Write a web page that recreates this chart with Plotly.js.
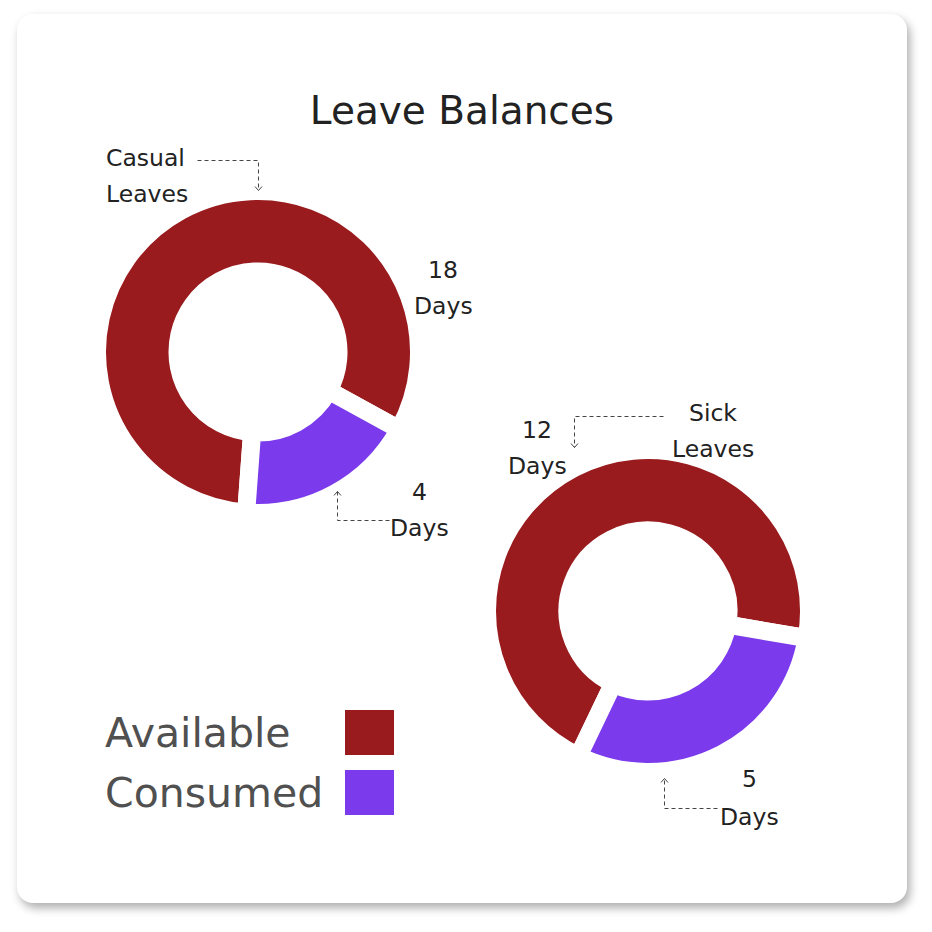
<!DOCTYPE html>
<html>
<head>
<meta charset="utf-8">
<script src="https://cdn.plot.ly/plotly-3.0.1.min.js"></script>
<style>
  html, body { margin:0; padding:0; background:#ffffff; }
  #wrap { position:relative; width:932px; height:932px; overflow:hidden; }
  #card { position:absolute; left:17px; top:14px; width:890px; height:889px;
          background:#ffffff; border-radius:16px;
          box-shadow: 3px 5px 10px rgba(0,0,0,0.32); }
  #chart { position:absolute; left:0; top:0; width:932px; height:932px; }
</style>
</head>
<body>
<div id="wrap">
  <div id="card"></div>
  <div id="chart"></div>
</div>
<script>
// ---- data ----
const chartTitle = 'Leave Balances';
const leaveTypes = ['Casual Leaves', 'Sick Leaves'];
const available = [18, 12];
const consumed = [4, 5];
const seriesNames = ['Available', 'Consumed'];
const unitLabel = 'Days';

// ---- styles ----
const seriesColors = ['#991b1e', '#7b3aeb'];
const FONT = '"DejaVu Sans", Inter, sans-serif';
const W = 932, H = 932;
const px = x => x / W;
const py = y => 1 - y / H;

// donut geometry (pixels): center, radius of domain
const donutCenters = [[258, 352], [648, 611]];
const R = 161;
const rotations = [184.2, 205.6];

const traces = leaveTypes.map((name, i) => {
  const [cx, cy] = donutCenters[i];
  return {
    type: 'pie',
    name: name,
    labels: seriesNames,
    values: [available[i], consumed[i]],
    marker: { colors: seriesColors, line: { color: '#ffffff', width: 18 } },
    hole: 0.5,
    sort: false,
    direction: 'clockwise',
    rotation: rotations[i],
    textinfo: 'none',
    hoverinfo: 'label+value',
    showlegend: false,
    domain: { x: [px(cx - R), px(cx + R)], y: [py(cy + R), py(cy - R)] }
  };
});

const labelFont = { family: FONT, size: 23.5, color: '#222222' };
function ann(text, x, y, xanchor, font) {
  return { text: text, x: px(x), y: py(y), xref: 'paper', yref: 'paper',
           xanchor: xanchor || 'center', yanchor: 'middle', showarrow: false,
           font: font || labelFont };
}

const annotations = [];
// leave type names
const nameWords0 = leaveTypes[0].split(' ');
annotations.push(ann(nameWords0[0], 104, 158, 'left'));
annotations.push(ann(nameWords0[1], 104, 194, 'left'));
const nameWords1 = leaveTypes[1].split(' ');
annotations.push(ann(nameWords1[0], 713, 413));
annotations.push(ann(nameWords1[1], 713, 449));
// values
annotations.push(ann(String(available[0]), 443, 270));
annotations.push(ann(unitLabel, 443, 306));
annotations.push(ann(String(consumed[0]), 419, 492));
annotations.push(ann(unitLabel, 419, 528));
annotations.push(ann(String(available[1]), 537, 430));
annotations.push(ann(unitLabel, 537, 466));
annotations.push(ann(String(consumed[1]), 749, 779));
annotations.push(ann(unitLabel, 749, 817));
// legend text
const legFont = { family: FONT, size: 41, color: '#505050' };
annotations.push(ann(seriesNames[0], 103, 733, 'left', legFont));
annotations.push(ann(seriesNames[1], 103, 793, 'left', legFont));

function pathStr(pts) {
  return pts.map((p, k) => (k ? 'L' : 'M') + px(p[0] + 0.5).toFixed(5) + ',' + py(p[1] + 0.5).toFixed(5)).join(' ');
}
const leaderLine = { color: '#444444', width: 1, dash: '4px,3px' };
const headLine = { color: '#444444', width: 1 };
const shapes = [];
function leader(pts, tip, dirDown) {
  shapes.push({ type: 'path', xref: 'paper', yref: 'paper', path: pathStr(pts), line: leaderLine });
  const [tx, ty] = tip;
  const d = dirDown ? -4 : 4;
  shapes.push({ type: 'path', xref: 'paper', yref: 'paper',
    path: pathStr([[tx - 3.5, ty + d], [tx, ty], [tx + 3.5, ty + d]]), line: headLine });
}
leader([[197, 160], [258, 160], [258, 190]], [258, 190], true);
leader([[389, 520], [337, 520], [337, 491]], [337, 491], false);
leader([[663, 416], [574, 416], [574, 447]], [574, 447], true);
leader([[717, 808], [664, 808], [664, 778]], [664, 778], false);

// legend squares
seriesColors.forEach((c, i) => {
  const y0 = 710 + i * 60;
  shapes.push({ type: 'rect', xref: 'paper', yref: 'paper',
    x0: px(345), x1: px(394), y0: py(y0 + 45), y1: py(y0),
    fillcolor: c, line: { width: 0 } });
});

const layout = {
  width: W, height: H,
  margin: { l: 0, r: 0, t: 0, b: 0 },
  paper_bgcolor: 'rgba(0,0,0,0)',
  plot_bgcolor: 'rgba(0,0,0,0)',
  showlegend: false,
  title: { text: chartTitle, x: 0.4957, xanchor: 'center', y: py(110), yanchor: 'middle',
           font: { family: FONT, size: 39, color: '#222222' } },
  annotations: annotations,
  shapes: shapes
};

Plotly.newPlot('chart', traces, layout, { displayModeBar: false, staticPlot: true });
</script>
</body>
</html>
